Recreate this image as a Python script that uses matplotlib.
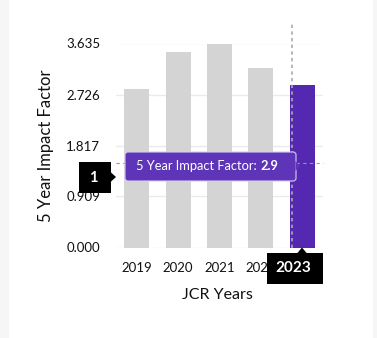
import matplotlib
matplotlib.use('Agg')
import matplotlib.pyplot as plt
from matplotlib.patches import Rectangle, FancyBboxPatch, Polygon

plt.rcParams['font.family'] = ['Lato', 'DejaVu Sans']

W, H = 377, 338

years = ['2019', '2020', '2021', '2022', '2023']
impact = [2.82, 3.49, 3.635, 3.20, 2.9]
yticks = [0.000, 0.909, 1.817, 2.726, 3.635]
highlight = 4  # 2023 is the selected bar

GREY_BAR = '#d4d4d4'
PURPLE = '#5428b0'
TIP_PURPLE = '#5e34b8'


def px(x, y):
    # pixel position (from top left) -> figure fraction
    return x / W, 1 - y / H


fig = plt.figure(figsize=(W / 100, H / 100), dpi=100, facecolor='#f6f6f6')
fig.patches.append(Rectangle(px(9, H), (373 - 9) / W, 1, transform=fig.transFigure,
                             facecolor='white', edgecolor='none', zorder=-5))

l, b = px(116, 247.5)
r, t = px(323, 43.5)
ax = fig.add_axes([l, b, r - l, t - b])
ax.set_facecolor('none')

colors = [PURPLE if i == highlight else GREY_BAR for i in range(len(years))]
ax.bar(range(len(years)), impact, width=0.6, color=colors, zorder=2)

ax.set_xlim(-0.5, len(years) - 0.5)
ax.set_ylim(0, yticks[-1])
ax.set_yticks(yticks)
ax.set_yticklabels([f'{v:.3f}' for v in yticks])
ax.set_xticks(range(len(years)))
ax.set_xticklabels(years)
ax.tick_params(length=0, labelsize=9.5, colors='#111111')
ax.tick_params(axis='y', pad=11.5)
ax.tick_params(axis='x', pad=10.5)
for s in ax.spines.values():
    s.set_visible(False)
ax.grid(axis='y', color='#ebebeb', linewidth=1, zorder=0)
ax.set_axisbelow(True)

ax.set_ylabel('5 Year Impact Factor', fontsize=12, color='#111111')
ax.set_xlabel('JCR Years', fontsize=11.5, color='#111111')
ax.yaxis.set_label_coords(-0.30, 0.5)
ax.xaxis.set_label_coords(0.488, -0.2)

# hover crosshair
cross_x, cross_y = 3.75, 1.506
ax.plot([cross_x, cross_x], [0, 4.0], color='#aaaaaa', lw=1.2, ls=(0, (2, 2)),
        clip_on=False, zorder=3)
ax.plot([-0.5, 4.5], [cross_y, cross_y], color='#999999', lw=0.8, ls=(0, (3, 3)),
        clip_on=False, zorder=3)

tf = fig.transFigure

# tooltip
x0, y0 = px(125, 181)
x1, y1 = px(296, 152)
ax.add_patch(FancyBboxPatch((x0, y0), x1 - x0, y1 - y0, boxstyle='round,pad=0,rounding_size=0.008',
                            transform=tf, facecolor=TIP_PURPLE, edgecolor='#d8cdf0', lw=0.8,
                            clip_on=False, zorder=10))
ax.add_patch(Polygon([px(295.5, 161), px(300, 166), px(295.5, 171)], closed=True, transform=tf,
                     facecolor=TIP_PURPLE, edgecolor='none', clip_on=False, zorder=11))
t1 = ax.text(*px(136, 166.5), '5 Year Impact Factor: ', transform=tf, color='white',
             fontsize=9.3, va='center', ha='left', zorder=12)
ax.annotate('2.9', xy=(1, 0.5), xycoords=t1, va='center', ha='left', color='white',
            fontsize=9.3, fontweight='bold', zorder=12)

# y-axis pointer label
x0, y0 = px(79, 193)
x1, y1 = px(111, 162)
ax.add_patch(Rectangle((x0, y0), x1 - x0, y1 - y0, transform=tf, facecolor='black',
                       edgecolor='none', clip_on=False, zorder=10))
ax.add_patch(Polygon([px(110.5, 172), px(116, 177), px(110.5, 182)], closed=True, transform=tf,
                     facecolor='black', edgecolor='none', clip_on=False, zorder=10))
ax.text(*px(93, 178), '1', transform=tf, color='white', fontsize=10.5, fontweight='bold',
        ha='center', va='center', zorder=12)

# x-axis pointer label
x0, y0 = px(267, 284)
x1, y1 = px(323, 253)
ax.add_patch(Rectangle((x0, y0), x1 - x0, y1 - y0, transform=tf, facecolor='black',
                       edgecolor='none', clip_on=False, zorder=10))
ax.add_patch(Polygon([px(297, 253.5), px(302, 247.5), px(307, 253.5)], closed=True, transform=tf,
                     facecolor='black', edgecolor='none', clip_on=False, zorder=10))
ax.text(*px(293, 268.5), years[highlight], transform=tf, color='white', fontsize=11,
        fontweight='bold', ha='center', va='center', zorder=12)

fig.savefig('out.png', dpi=100, facecolor=fig.get_facecolor())
